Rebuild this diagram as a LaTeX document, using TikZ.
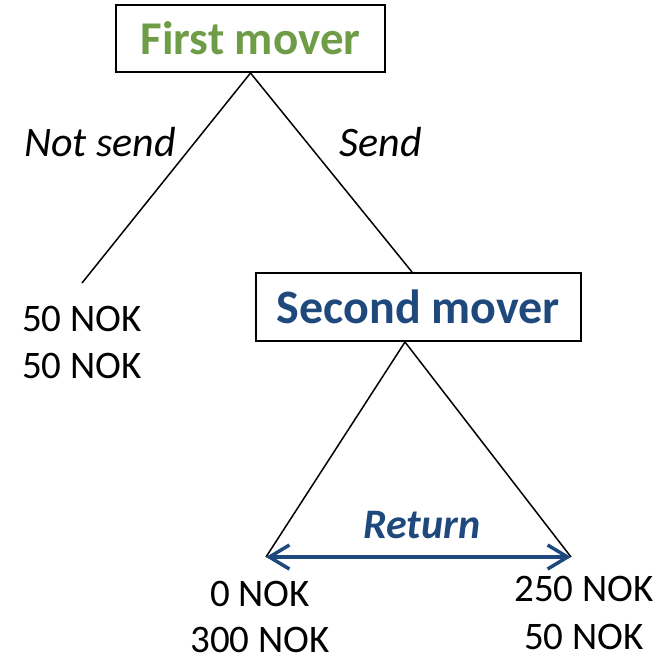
\documentclass[tikz,border=0pt]{standalone}
\usepackage{fontspec}
\setmainfont{Carlito}
\usetikzlibrary{arrows.meta}
\definecolor{moverone}{HTML}{6E9C47}
\definecolor{movertwo}{HTML}{1F497D}
\tikzset{
  player/.style={draw=black, line width=2pt, fill=white, inner sep=0pt},
  branch/.style={line width=1.5pt},
  choice/.style={font=\fontsize{42}{48}\selectfont\itshape, inner sep=0pt, anchor=base},
  payoff/.style={font=\fontsize{39}{46}\selectfont, inner sep=0pt, anchor=base},
}
\begin{document}
\begin{tikzpicture}[x=1pt, y=-1pt]
\useasboundingbox (0,0) rectangle (663,656);
% players
\node[player, text=moverone, font=\fontsize{47}{50}\selectfont\bfseries,
  minimum width=269pt, minimum height=67pt] (fm) at (250.5,38.5) {First mover};
\node[player, text=movertwo, font=\fontsize{48}{50}\selectfont\bfseries,
  minimum width=325pt, minimum height=68pt] (sm) at (418.5,307) {Second mover};
% branch ends
\coordinate (ns) at (82,283);
\coordinate (ra) at (266,557);
\coordinate (rb) at (571,557);
% branches
\draw[branch] (fm.south) -- (ns);
\draw[branch] (fm.south) -- (sm.north -| 412,0);
\draw[branch] (sm.south -| 405,0) -- (ra);
\draw[branch] (sm.south -| 405,0) -- (rb);
% continuous return choice
\draw[movertwo, line width=3.5pt, {Straight Barb[length=20pt,width=24pt]}-{Straight Barb[length=20pt,width=24pt]}] (ra) -- (rb);
% choice labels
\node[choice] (lns) at (100,156) {Not send};
\node[choice] (lsd) at (380.5,156) {Send};
\node[choice, text=movertwo, font=\fontsize{42}{48}\selectfont\bfseries\itshape] (lrt) at (422,538) {Return};
% payoffs
\node[payoff] (p1a) at (82,331) {50 NOK};
\node[payoff] (p1b) at (82,378) {50 NOK};
\node[payoff] (p2a) at (260,606) {0 NOK};
\node[payoff] (p2b) at (260,652) {300 NOK};
\node[payoff] (p3a) at (584,601) {250 NOK};
\node[payoff] (p3b) at (584,649) {50 NOK};
\end{tikzpicture}
\end{document}
